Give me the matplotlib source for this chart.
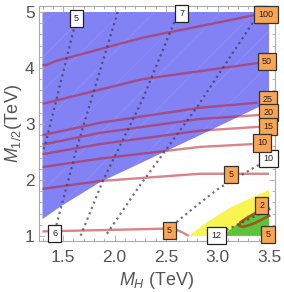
import matplotlib
matplotlib.use("Agg")
import matplotlib.pyplot as plt
from matplotlib.ticker import MultipleLocator, FixedLocator
import numpy as np

plt.rcParams['font.family'] = ['Liberation Sans', 'DejaVu Sans']
plt.rcParams['mathtext.fontset'] = 'custom'
plt.rcParams['mathtext.rm'] = 'Liberation Sans'
plt.rcParams['mathtext.it'] = 'Liberation Sans:italic'
plt.rcParams['hatch.linewidth'] = 0.4

# ---- data (TeV) ----
x_ticks = [1.5, 2.0, 2.5, 3.0, 3.5]
x_tick_labels = ["1.5", "2.0", "2.5", "3.0", "3.5"]
y_ticks = [1, 2, 3, 4, 5]
y_tick_labels = ["1", "2", "3", "4", "5"]

# excluded (blue) region outline
blue_x = [1.3, 3.5, 3.5, 2.83, 1.86, 1.47, 1.3]
blue_y = [5.0, 5.0, 3.39, 2.80, 1.96, 1.52, 1.30]

# yellow / green regions
yellow_x = [2.72, 2.9, 3.1, 3.3, 3.5, 3.5]
yellow_y = [1.0, 1.25, 1.48, 1.66, 1.82, 1.0]
green_x = [3.04, 3.2, 3.35, 3.5, 3.5]
green_y = [1.0, 1.22, 1.42, 1.60, 1.0]

# brown closed contour "2"
brown_x = [3.5, 3.4, 3.3, 3.22, 3.21, 3.25, 3.35, 3.45, 3.5]
brown_y = [1.48, 1.43, 1.34, 1.24, 1.18, 1.16, 1.22, 1.31, 1.36]

# solid (red) contours
red_100_x = [1.3, 1.35, 1.42, 2.27, 3.4]
red_100_y = [4.05, 4.06, 4.12, 4.54, 4.96]
red_50_x = [1.3, 2.27, 3.4]
red_50_y = [3.36, 3.80, 4.09]
red_25_x = [1.3, 1.857, 2.829, 3.39]
red_25_y = [2.80, 3.02, 3.29, 3.38]
red_20_x = [1.3, 1.857, 2.829, 3.41]
red_20_y = [2.63, 2.84, 3.09, 3.16]
red_15_x = [1.3, 1.857, 2.829, 3.41]
red_15_y = [2.46, 2.64, 2.88, 2.95]
red_10_x = [1.3, 1.857, 2.829, 3.34]
red_10_y = [2.23, 2.38, 2.59, 2.64]
red_5a_x = [1.3, 1.857, 2.829, 3.5]
red_5a_y = [1.84, 1.98, 2.11, 2.11]
red_5b_x = [1.3, 2.27, 2.5, 2.6, 2.66, 2.72]
red_5b_y = [1.08, 1.12, 1.13, 1.11, 1.06, 1.0]

# dotted contours
dot_5_x = [1.63, 1.325, 1.3]
dot_5_y = [4.89, 2.62, 2.50]
dot_6_x = [2.03, 1.64, 1.44, 1.42]
dot_6_y = [5.0, 2.62, 1.23, 1.04]
dot_7_x = [2.65, 2.58, 2.27, 1.88, 1.67]
dot_7_y = [4.98, 4.82, 3.43, 1.96, 1.0]
dot_9_x = [3.42, 3.36, 2.80, 2.23, 1.93, 1.9]
dot_9_y = [4.95, 4.86, 3.30, 1.86, 1.05, 1.0]
dot_10_x = [3.49, 3.43, 3.02, 2.83, 2.59, 2.5]
dot_10_y = [2.39, 2.30, 1.86, 1.59, 1.23, 1.0]
dot_12_x = [2.99, 3.09, 3.43, 3.5]
dot_12_y = [1.0, 1.11, 1.41, 1.48]

# contour labels
orange_labels = ["100", "50", "25", "20", "15", "10", "5", "5", "2", "5"]
orange_x = [3.47, 3.48, 3.49, 3.495, 3.49, 3.43, 3.13, 2.53, 3.43, 3.49]
orange_y = [4.95, 4.12, 3.43, 3.21, 2.95, 2.66, 2.09, 1.09, 1.54, 1.02]
white_labels = ["5", "7", "10", "6", "12"]
white_x = [1.63, 2.65, 3.495, 1.42, 2.99]
white_y = [4.89, 4.98, 2.39, 1.04, 1.0]
hidden_box_x = [3.43]
hidden_box_y = [4.96]

fig = plt.figure(figsize=(2.84, 2.92), dpi=100)
ax = fig.add_axes([0.137, 0.173, 0.831, 0.805])

ax.fill(blue_x, blue_y, facecolor='#8282f5', edgecolor='none', zorder=1)
ax.fill(blue_x, blue_y, facecolor='none', edgecolor='#9494f7', hatch='/', linewidth=0, zorder=1.1)
ax.fill(yellow_x, yellow_y, facecolor='#f8f550', edgecolor='none', zorder=1)
ax.fill(green_x, green_y, facecolor='#5cc43a', edgecolor='none', zorder=1.2)

red_kw = dict(color='#be1e2a', alpha=0.55, lw=1.7, solid_capstyle='butt', zorder=3)
for xs, ys in [(red_100_x, red_100_y), (red_50_x, red_50_y), (red_25_x, red_25_y),
               (red_20_x, red_20_y), (red_15_x, red_15_y), (red_10_x, red_10_y),
               (red_5a_x, red_5a_y), (red_5b_x, red_5b_y)]:
    ax.plot(xs, ys, **red_kw)

ax.plot(brown_x, brown_y, color='#9a5a1e', lw=1.9, zorder=3)

dot_kw = dict(color='#3c3c52', alpha=0.72, lw=1.6, linestyle=(0, (1, 1.6)), zorder=4)
for xs, ys in [(dot_5_x, dot_5_y), (dot_6_x, dot_6_y), (dot_7_x, dot_7_y),
               (dot_9_x, dot_9_y), (dot_10_x, dot_10_y), (dot_12_x, dot_12_y)]:
    ax.plot(xs, ys, **dot_kw)

box_w = dict(boxstyle='square,pad=0.45', facecolor='white', edgecolor='#222222', lw=0.9)
for x, y in zip(hidden_box_x, hidden_box_y):
    ax.text(x, y, "  ", ha='center', va='center', fontsize=6.5, zorder=5, bbox=box_w)
for t, x, y in zip(white_labels, white_x, white_y):
    ax.text(x, y, t, ha='center', va='center', fontsize=6.5, color='#222222', zorder=5,
            bbox=box_w)
for t, x, y in zip(orange_labels, orange_x, orange_y):
    ax.text(x, y, t, ha='center', va='center', fontsize=6.5, color='#222222', zorder=6,
            bbox=dict(boxstyle='square,pad=0.45', facecolor='#f9a553', edgecolor='#333333', lw=0.9))

ax.set_xlim(1.265, 3.557)
ax.set_ylim(0.9, 5.1)
ax.xaxis.set_major_locator(FixedLocator(x_ticks))
ax.set_xticklabels(x_tick_labels)
ax.yaxis.set_major_locator(FixedLocator(y_ticks))
ax.set_yticklabels(y_tick_labels)
ax.xaxis.set_minor_locator(MultipleLocator(0.1))
ax.yaxis.set_minor_locator(MultipleLocator(0.2))
ax.tick_params(which='both', direction='in', top=True, right=True, color='#aaaaaa', width=0.6,
               labelsize=12.5, labelcolor='#555555')
ax.tick_params(which='major', length=4)
ax.tick_params(which='minor', length=2)
ax.tick_params(axis='x', pad=6)
ax.tick_params(axis='y', pad=3)
for s in ax.spines.values():
    s.set_color('#aaaaaa')
    s.set_linewidth(0.8)

ax.set_xlabel(r'$M_H$ (TeV)', fontsize=13, color='#555555', labelpad=4)
ax.set_ylabel(r'$M_{1/2}$(TeV)', fontsize=13, color='#555555', labelpad=1)

fig.savefig('out.png', dpi=100)
